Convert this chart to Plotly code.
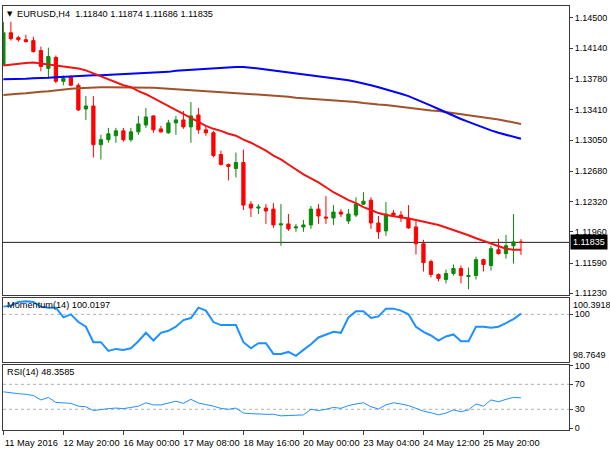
import plotly.graph_objects as go

# ---------------- data ----------------
bars = list(range(1, 71))

open_ = [1.13947, 1.14323, 1.14265, 1.14241, 1.14230, 1.14112, 1.13900, 1.14030, 1.13747, 1.13794,
         1.13700, 1.13418, 1.13454, 1.12994, 1.13054, 1.13101, 1.13159, 1.13054, 1.13147, 1.13229,
         1.13336, 1.13182, 1.13136, 1.13253, 1.13289, 1.13206, 1.13347, 1.13171, 1.13136, 1.12877,
         1.12759, 1.12712, 1.12783, 1.12289, 1.12242, 1.12242, 1.12230, 1.12042, 1.12054, 1.12007,
         1.12018, 1.12042, 1.12230, 1.12136, 1.12124, 1.12195, 1.12089, 1.12159, 1.12289, 1.12336,
         1.12065, 1.11971, 1.12183, 1.12159, 1.12124, 1.12018, 1.11818, 1.11607, 1.11454, 1.11395,
         1.11466, 1.11525, 1.11430, 1.11442, 1.11630, 1.11560, 1.11748, 1.11701, 1.11795, 1.11840]
high = [1.14453, 1.14453, 1.14288, 1.14300, 1.14277, 1.14159, 1.14147, 1.14053, 1.13817, 1.13817,
        1.13724, 1.13571, 1.13571, 1.13112, 1.13194, 1.13194, 1.13194, 1.13194, 1.13336, 1.13430,
        1.13347, 1.13218, 1.13289, 1.13336, 1.13395, 1.13500, 1.13430, 1.13218, 1.13159, 1.12924,
        1.12771, 1.12901, 1.12936, 1.12324, 1.12289, 1.12289, 1.12301, 1.12289, 1.12171, 1.12054,
        1.12101, 1.12266, 1.12289, 1.12383, 1.12277, 1.12230, 1.12230, 1.12371, 1.12430, 1.12371,
        1.12148, 1.12313, 1.12218, 1.12207, 1.12277, 1.12101, 1.11866, 1.11630, 1.11466, 1.11513,
        1.11572, 1.11560, 1.11536, 1.11666, 1.11642, 1.11795, 1.11877, 1.11924, 1.12171, 1.11874]
low = [1.13935, 1.14230, 1.14218, 1.14206, 1.14088, 1.13865, 1.13782, 1.13724, 1.13700, 1.13689,
       1.13395, 1.13289, 1.12842, 1.12819, 1.13018, 1.13018, 1.13030, 1.13030, 1.13112, 1.13194,
       1.13136, 1.13136, 1.13124, 1.13112, 1.13182, 1.13018, 1.13124, 1.13101, 1.12842, 1.12747,
       1.12571, 1.12606, 1.12219, 1.12136, 1.12171, 1.12054, 1.12007, 1.11795, 1.11971, 1.11960,
       1.11960, 1.11995, 1.12054, 1.12054, 1.12042, 1.12136, 1.12054, 1.12136, 1.12278, 1.11995,
       1.11877, 1.11913, 1.12148, 1.12077, 1.11995, 1.11690, 1.11489, 1.11419, 1.11372, 1.11348,
       1.11442, 1.11348, 1.11278, 1.11395, 1.11489, 1.11501, 1.11690, 1.11642, 1.11583, 1.11686]
close = [1.14323, 1.14253, 1.14241, 1.14218, 1.14100, 1.13924, 1.14042, 1.13747, 1.13782, 1.13700,
         1.13407, 1.13454, 1.12994, 1.13054, 1.13124, 1.13159, 1.13054, 1.13147, 1.13241, 1.13324,
         1.13171, 1.13147, 1.13253, 1.13289, 1.13206, 1.13336, 1.13171, 1.13136, 1.12866, 1.12759,
         1.12736, 1.12783, 1.12278, 1.12242, 1.12254, 1.12207, 1.12042, 1.12054, 1.11995, 1.12018,
         1.12042, 1.12230, 1.12148, 1.12124, 1.12195, 1.12171, 1.12171, 1.12289, 1.12324, 1.12065,
         1.11960, 1.12171, 1.12159, 1.12124, 1.12007, 1.11818, 1.11595, 1.11454, 1.11407, 1.11466,
         1.11525, 1.11442, 1.11442, 1.11630, 1.11572, 1.11760, 1.11701, 1.11795, 1.11840, 1.11835]

ma_fast = [1.13935, 1.13947, 1.13959, 1.13965, 1.13971, 1.13959, 1.13953, 1.13941, 1.13930, 1.13918,
           1.13900, 1.13877, 1.13841, 1.13806, 1.13771, 1.13736, 1.13700, 1.13677, 1.13630, 1.13594,
           1.13547, 1.13500, 1.13454, 1.13407, 1.13360, 1.13312, 1.13265, 1.13218, 1.13183, 1.13159,
           1.13124, 1.13101, 1.13054, 1.13018, 1.12971, 1.12924, 1.12866, 1.12819, 1.12759, 1.12700,
           1.12642, 1.12595, 1.12548, 1.12489, 1.12430, 1.12383, 1.12336, 1.12301, 1.12254, 1.12219,
           1.12183, 1.12159, 1.12148, 1.12136, 1.12118, 1.12101, 1.12083, 1.12065, 1.12042, 1.12012,
           1.11983, 1.11948, 1.11919, 1.11884, 1.11854, 1.11818, 1.11789, 1.11760, 1.11748, 1.11748]
ma_mid = [1.13770, 1.13770, 1.13776, 1.13776, 1.13782, 1.13782, 1.13788, 1.13794, 1.13800, 1.13800,
          1.13806, 1.13812, 1.13818, 1.13818, 1.13823, 1.13823, 1.13829, 1.13829, 1.13835, 1.13841,
          1.13847, 1.13853, 1.13859, 1.13871, 1.13877, 1.13888, 1.13894, 1.13900, 1.13906, 1.13912,
          1.13918, 1.13918, 1.13918, 1.13912, 1.13900, 1.13888, 1.13877, 1.13865, 1.13853, 1.13841,
          1.13829, 1.13818, 1.13806, 1.13794, 1.13782, 1.13770, 1.13759, 1.13741, 1.13724, 1.13700,
          1.13677, 1.13653, 1.13630, 1.13600, 1.13571, 1.13536, 1.13500, 1.13459, 1.13418, 1.13377,
          1.13336, 1.13300, 1.13265, 1.13229, 1.13194, 1.13165, 1.13136, 1.13112, 1.13089, 1.13065]
ma_slow = [1.13583, 1.13594, 1.13600, 1.13606, 1.13618, 1.13624, 1.13630, 1.13641, 1.13653, 1.13659,
           1.13665, 1.13671, 1.13677, 1.13677, 1.13677, 1.13677, 1.13677, 1.13677, 1.13677, 1.13671,
           1.13671, 1.13665, 1.13659, 1.13653, 1.13647, 1.13641, 1.13641, 1.13635, 1.13630, 1.13624,
           1.13618, 1.13612, 1.13606, 1.13600, 1.13594, 1.13583, 1.13577, 1.13571, 1.13565, 1.13553,
           1.13547, 1.13541, 1.13536, 1.13530, 1.13524, 1.13518, 1.13512, 1.13500, 1.13489, 1.13477,
           1.13471, 1.13465, 1.13454, 1.13442, 1.13430, 1.13424, 1.13412, 1.13400, 1.13395, 1.13383,
           1.13371, 1.13359, 1.13347, 1.13336, 1.13324, 1.13306, 1.13294, 1.13277, 1.13259, 1.13241]

momentum = [100.23, 100.26, 100.37, 100.3918, 100.37, 100.23, 100.20, 100.20, 99.91, 100.00,
            99.77, 99.63, 99.17, 99.17, 98.91, 98.97, 98.94, 98.99, 99.20, 99.45,
            99.22, 99.45, 99.51, 99.63, 99.83, 99.89, 100.20, 100.11, 99.77, 99.68,
            99.68, 99.68, 99.17, 98.99, 99.14, 99.14, 98.82, 98.82, 98.88, 98.7649,
            98.94, 99.11, 99.31, 99.40, 99.48, 99.45, 99.91, 100.09, 100.09, 99.89,
            99.94, 100.17, 100.17, 100.11, 100.00, 99.63, 99.48, 99.37, 99.22, 99.34,
            99.40, 99.20, 99.20, 99.63, 99.63, 99.60, 99.63, 99.74, 99.86, 100.0197]
rsi = [58, 56, 55, 54, 52, 45, 49, 41, 40, 39.5,
       35, 34, 28, 30, 31, 32, 31, 33, 35, 40.5,
       37, 37, 40, 43, 39.5, 46, 40, 38, 35, 31.5,
       30, 32, 24, 23, 22, 22, 22, 19.5, 20, 20.4,
       21, 30, 28, 30, 33, 31.5, 36, 38.5, 40.5, 34,
       30.5, 37, 40.5, 38.5, 36, 31.5, 27, 24.5, 21, 24,
       29, 26, 29, 38.5, 35, 45, 42, 46, 49, 48.3585]

date_ticks = [1, 9, 17, 25, 33, 41, 49, 57, 65]
date_labels = ["11 May 2016", "12 May 20:00", "16 May 00:00", "17 May 08:00", "18 May 16:00",
               "20 May 00:00", "23 May 04:00", "24 May 12:00", "25 May 20:00"]
price_ticks = [1.14500, 1.14140, 1.13780, 1.13410, 1.13050, 1.12680, 1.12320, 1.11960, 1.11590, 1.11230]
mom_max, mom_min = 100.3918, 98.7649
mom_level = 100
rsi_ticks = [100, 70, 30, 0]
rsi_levels = [70, 30]

# ---------------- styling ----------------
FONT = "Liberation Sans"
FRAME = "#3a3a3a"
W, H = 610, 450
L, R, T, B = 3, 41, 2, 20
plot_h = H - T - B
plot_w = W - L - R


def pdom(y_top_px, y_bot_px):
    return [(H - B - y_bot_px) / plot_h, (H - B - y_top_px) / plot_h]


def py(px):
    return (H - B - px) / plot_h


fig = go.Figure()

fig.add_trace(go.Candlestick(
    x=bars, open=open_, high=high, low=low, close=close,
    xaxis="x3", yaxis="y3",
    increasing=dict(line=dict(color="#0a8a0a", width=1), fillcolor="#0a8a0a"),
    decreasing=dict(line=dict(color="#ff0000", width=1), fillcolor="#ff0000"),
    whiskerwidth=0, hoverinfo="skip", showlegend=False))

for vals, col in [(ma_slow, "#a0522d"), (ma_mid, "#0000ff"), (ma_fast, "#f01414")]:
    fig.add_trace(go.Scatter(x=bars, y=vals, mode="lines", xaxis="x3", yaxis="y3",
                             line=dict(color=col, width=2), hoverinfo="skip", showlegend=False))

fig.add_trace(go.Scatter(x=bars, y=momentum, mode="lines", xaxis="x2", yaxis="y2",
                         line=dict(color="#1e90ff", width=2), hoverinfo="skip", showlegend=False))
fig.add_trace(go.Scatter(x=bars, y=rsi, mode="lines", xaxis="x", yaxis="y",
                         line=dict(color="#1e90ff", width=1), hoverinfo="skip", showlegend=False))

xrange = [0.95, 76.4]
common_x = dict(range=xrange, showgrid=False, zeroline=False, showline=True, mirror=True,
                linecolor=FRAME, linewidth=1, fixedrange=True)
common_y = dict(side="right", showgrid=False, zeroline=False, showline=True, mirror=True,
                linecolor=FRAME, linewidth=1, ticks="outside", ticklen=3, tickcolor=FRAME,
                tickfont=dict(family=FONT, size=9, color="#000"), fixedrange=True)

fig.update_layout(
    width=W, height=H,
    margin=dict(l=L, r=R, t=T, b=B),
    paper_bgcolor="white", plot_bgcolor="white",
    boxgap=0.38,
    showlegend=False,
    xaxis=dict(**common_x, anchor="y", domain=[0, 1],
               tickmode="array", tickvals=date_ticks, ticktext=date_labels,
               ticks="outside", ticklen=4, tickcolor=FRAME, ticklabelshift=28,
               tickfont=dict(family=FONT, size=9.3, color="#000")),
    xaxis2=dict(**common_x, anchor="y2", matches="x", showticklabels=False, ticks=""),
    xaxis3=dict(**common_x, anchor="y3", matches="x", showticklabels=False, ticks="",
                rangeslider=dict(visible=False)),
    yaxis=dict(**common_y, domain=pdom(364, 430), range=[-3.2, 101.6],
               tickmode="array", tickvals=rsi_ticks, ticktext=[str(v) for v in rsi_ticks]),
    yaxis2=dict(**common_y, domain=pdom(297, 361), range=[98.59, 100.48],
                tickmode="array", tickvals=[mom_level], ticktext=[str(mom_level)]),
    yaxis3=dict(**common_y, domain=pdom(2, 294), range=[1.11207, 1.14641],
                tickmode="array", tickvals=price_ticks, ticktext=[f"{v:.5f}" for v in price_ticks]),
)

shapes = []
shapes.append(dict(type="line", xref="x3 domain", x0=0, x1=1, yref="y3", y0=close[-1], y1=close[-1],
                   line=dict(color="#202020", width=1), layer="below"))
shapes.append(dict(type="line", xref="x2 domain", x0=0, x1=1, yref="y2", y0=mom_level, y1=mom_level,
                   line=dict(color="#b0b0b0", width=1, dash="dot"), layer="below"))
for lv in rsi_levels:
    shapes.append(dict(type="line", xref="x domain", x0=0, x1=1, yref="y", y0=lv, y1=lv,
                       line=dict(color="#b0b0b0", width=1, dash="dot"), layer="below"))
fig.update_layout(shapes=shapes)

nb = "\u00a0"
header = f"EURUSD,H4{nb}{nb}{open_[-1]:.5f} {high[-1]:.5f} {low[-1]:.5f} {close[-1]:.5f}"
axis_font = dict(family=FONT, size=9, color="#000")
ann = [
    dict(text="▼", xref="paper", yref="paper", x=(9.5 - L) / plot_w, y=py(10),
         xanchor="center", yanchor="middle", showarrow=False, font=dict(family="DejaVu Sans", size=7, color="#000")),
    dict(text=header, xref="paper", yref="paper", x=(15 - L) / plot_w, y=py(10),
         xanchor="left", yanchor="middle", showarrow=False, font=dict(family=FONT, size=9.2, color="#000")),
    dict(text=f"Momentum(14) {momentum[-1]:.4f}", xref="paper", yref="paper", x=(5 - L) / plot_w,
         y=py(304), xanchor="left", yanchor="middle", showarrow=False,
         font=dict(family=FONT, size=9.2, color="#000")),
    dict(text=f"RSI(14) {rsi[-1]:.4f}", xref="paper", yref="paper", x=(5 - L) / plot_w,
         y=py(371), xanchor="left", yanchor="middle", showarrow=False,
         font=dict(family=FONT, size=9.2, color="#000")),
    # momentum window max / min labels (drawn inside the window edges, as in the terminal)
    dict(text=f"{mom_max:.4f}", xref="paper", yref="paper", x=1.0, y=py(303.5), xshift=3,
         xanchor="left", yanchor="middle", showarrow=False, borderpad=0, font=axis_font),
    dict(text=f"{mom_min:.4f}", xref="paper", yref="paper", x=1.0, y=py(354.5), xshift=3,
         xanchor="left", yanchor="middle", showarrow=False, borderpad=0, font=axis_font),
    dict(text=f"{close[-1]:.5f}", xref="paper", yref="y3", x=1.0, y=close[-1],
         xanchor="left", yanchor="middle", showarrow=False, bgcolor="#000", borderpad=2,
         xshift=1, font=dict(family=FONT, size=9, color="#fff")),
]
fig.update_layout(annotations=ann)

fig.write_html("out.html", config={"displayModeBar": False},
               post_script="document.body.style.margin='0px';document.body.style.padding='0px';")
